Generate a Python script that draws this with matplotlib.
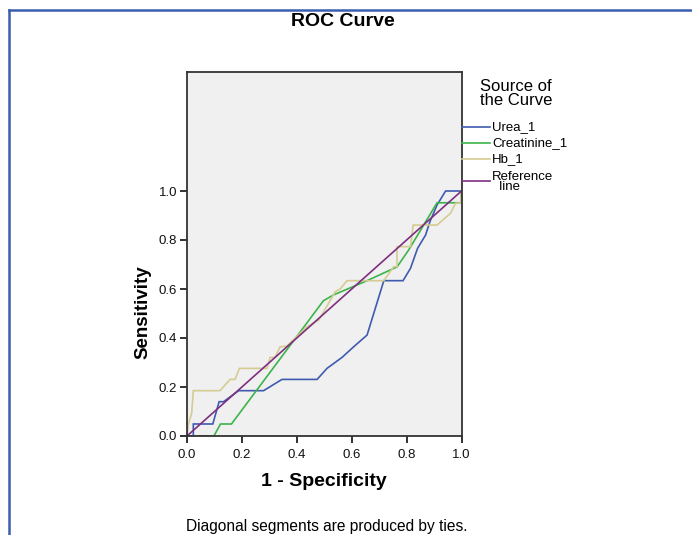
import matplotlib
matplotlib.use("Agg")
import matplotlib.pyplot as plt
from matplotlib.lines import Line2D

plt.rcParams['font.family'] = ['Liberation Sans', 'DejaVu Sans']

# ROC points (1 - specificity, sensitivity)
urea_x = [0.0, 0.023, 0.023, 0.094, 0.117, 0.133, 0.188, 0.279, 0.346, 0.474,
          0.510, 0.565, 0.607, 0.656, 0.717, 0.787, 0.814, 0.840, 0.869, 0.885,
          0.911, 0.942, 1.0]
urea_y = [0.0, 0.0, 0.049, 0.049, 0.140, 0.140, 0.185, 0.185, 0.231, 0.231,
          0.276, 0.321, 0.364, 0.412, 0.634, 0.634, 0.684, 0.766, 0.820, 0.875,
          0.943, 1.0, 1.0]

creat_x = [0.0, 0.098, 0.122, 0.162, 0.497, 0.534, 0.656, 0.753, 0.765, 0.808,
           0.911, 0.997, 1.0]
creat_y = [0.0, 0.0, 0.049, 0.049, 0.552, 0.576, 0.634, 0.684, 0.690, 0.760,
           0.952, 0.952, 1.0]

hb_x = [0.0, 0.005, 0.017, 0.023, 0.120, 0.157, 0.175, 0.191, 0.291, 0.303,
        0.321, 0.339, 0.364, 0.437, 0.480, 0.498, 0.540, 0.558, 0.583, 0.717,
        0.753, 0.765, 0.765, 0.814, 0.824, 0.911, 0.960, 0.978, 0.997, 1.0]
hb_y = [0.0, 0.049, 0.093, 0.185, 0.185, 0.231, 0.231, 0.276, 0.276, 0.321,
        0.321, 0.364, 0.367, 0.446, 0.473, 0.507, 0.589, 0.600, 0.634, 0.634,
        0.691, 0.691, 0.773, 0.773, 0.861, 0.861, 0.909, 0.950, 0.952, 1.0]

ref_x = [0.0, 1.0]
ref_y = [0.0, 1.0]

series = [
    ('Urea_1', urea_x, urea_y, '#3f5bb0'),
    ('Creatinine_1', creat_x, creat_y, '#3cb44b'),
    ('Hb_1', hb_x, hb_y, '#d4cc90'),
    ('Reference\n  line', ref_x, ref_y, '#7d2f80'),
]

W, H = 692, 535
fig = plt.figure(figsize=(W / 100, H / 100), dpi=100)

# frame in pixel terms
x0, x1 = 187, 461.5
y0, y1 = 436, 71.5
ax = fig.add_axes([x0 / W, 1 - y0 / H, (x1 - x0) / W, (y0 - y1) / H])
ax.set_facecolor('#f0f0f0')
ax.set_xlim(0, 1)
ax.set_ylim(0, (y0 - y1) / 245.0)

for name, xs, ys, col in series:
    ax.plot(xs, ys, color=col, lw=1.2, solid_joinstyle='miter')

ax.set_xticks([0.0, 0.2, 0.4, 0.6, 0.8, 1.0])
ax.set_yticks([0.0, 0.2, 0.4, 0.6, 0.8, 1.0])
ax.xaxis.set_major_formatter(plt.FormatStrFormatter('%.1f'))
ax.yaxis.set_major_formatter(plt.FormatStrFormatter('%.1f'))
ax.tick_params(direction='out', length=5, width=1.3, labelsize=9.5,
               color='#222222', labelcolor='#111111', pad=2)
ax.tick_params(axis='x', pad=4)
for sp in ax.spines.values():
    sp.set_linewidth(1.3)
    sp.set_color('#333333')

ax.set_xlabel('1 - Specificity', fontsize=14, fontweight='bold')
ax.set_ylabel('Sensitivity', fontsize=13.5, fontweight='bold')
ax.xaxis.set_label_coords(0.5, -(481 - y0) / (y0 - y1))
ax.yaxis.set_label_coords(-(x0 - 143) / (x1 - x0), (y0 - 312) / (y0 - y1))
ax.yaxis.label.set_va('center')
ax.xaxis.label.set_va('center')

fig.text(343 / W, 1 - 22 / H, 'ROC Curve', ha='center', va='center',
         fontsize=14, fontweight='bold')
fig.text(327 / W, 1 - 526 / H, 'Diagonal segments are produced by ties.',
         ha='center', va='center', fontsize=11.2)

# legend to the right of the plot
fig.text(480 / W, 1 - 79 / H, 'Source of\nthe Curve', ha='left', va='top',
         fontsize=12, linespacing=0.9)
leg_y = [127, 143, 159, 181]
for (name, xs, ys, col), py in zip(series, leg_y):
    fig.add_artist(Line2D([x1 / W, 490 / W], [1 - py / H, 1 - py / H],
                          color=col, lw=1.2, transform=fig.transFigure))
    fig.text(492 / W, 1 - (py + (1 if '\n' in name else 0)) / H, name,
             ha='left', va='center', fontsize=9.5, linespacing=0.85)

# blue border at top and left
fig.add_artist(Line2D([9 / W, 9 / W], [0, 1 - 9.5 / H], color='#3a5fb0',
                      lw=1.8, transform=fig.transFigure))
fig.add_artist(Line2D([9 / W, 1], [1 - 9.5 / H, 1 - 9.5 / H], color='#3a5fb0',
                      lw=1.8, transform=fig.transFigure))

fig.savefig('out.png', dpi=100, facecolor='white')
